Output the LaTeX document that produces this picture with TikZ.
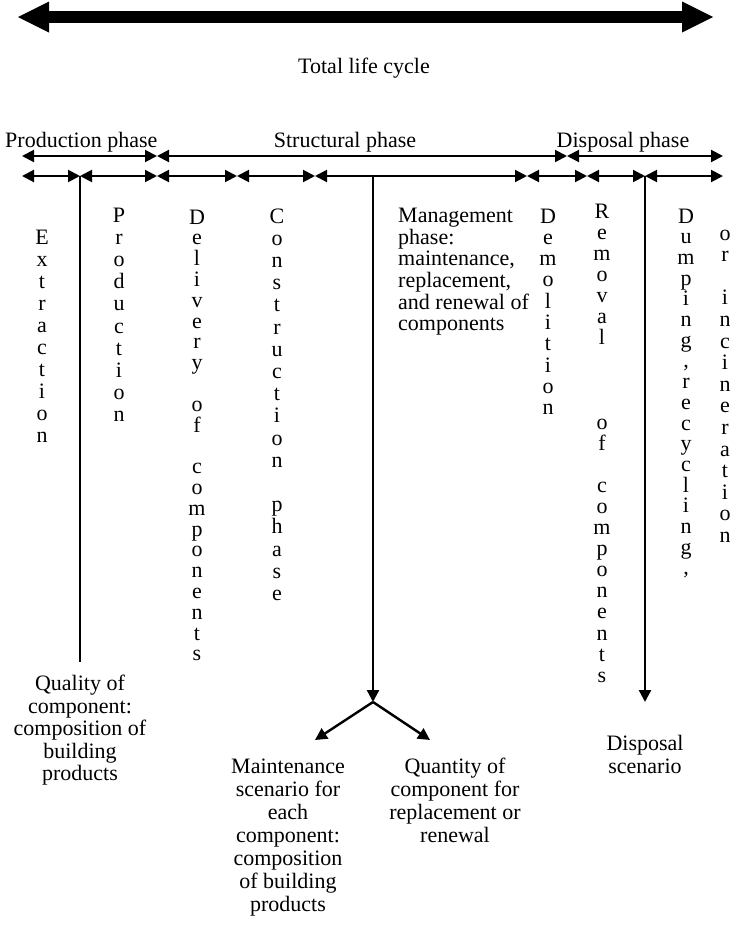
\documentclass[tikz,border=0pt]{standalone}
\usepackage{fontspec}
\setmainfont{Liberation Serif}
\usetikzlibrary{arrows.meta}

% one letter on each line: name, x, first baseline, line step, letters
\def\makevword#1#2#3#4#5{
  \foreach \ch [count=\i from 0] in {#5} {
    \node[letter] (#1-\i) at (#2, {#3+\i*#4}) {\ch};
  }
}

\begin{document}
\begin{tikzpicture}[x=1pt, y=-1pt,
  letter/.style={anchor=base, inner sep=0pt, font=\fontsize{22}{22}\selectfont},
  lbl/.style={inner sep=0pt, font=\fontsize{22}{23}\selectfont},
  seg/.style={line width=2pt, {Triangle[length=12pt,width=12pt]}-{Triangle[length=12pt,width=12pt]}},
  vline/.style={line width=2.4pt},
  tip/.style={-{Triangle[length=12pt,width=12pt]}}]
  \useasboundingbox (0,0) rectangle (729,929);

  \coordinate (lifeL) at (18,17);
  \coordinate (lifeR) at (713,17);
  \draw[line width=12.5pt, {Triangle[length=31pt,width=31pt,line width=0pt]}-{Triangle[length=31pt,width=31pt,line width=0pt]}] (lifeL) -- (lifeR);
  \node[lbl, anchor=base] (total) at (364,73) {Total life cycle};

  \node[lbl, anchor=base west] (prodph) at (5,147) {Production phase};
  \node[lbl, anchor=base] (structph) at (345,147) {Structural phase};
  \node[lbl, anchor=base] (dispph) at (623,147) {Disposal phase};

  \foreach \n/\x in {0/22, 1/157, 2/567, 3/723}
    \coordinate (p\n) at (\x,156);
  \foreach \n/\x in {0/22, 1/80, 2/157, 3/237, 4/315, 5/527, 6/587, 7/645, 8/723}
    \coordinate (s\n) at (\x,176);
  \foreach \a/\b in {0/1, 1/2, 2/3}
    \draw[seg] (p\a) -- (p\b);
  \foreach \a/\b in {0/1, 1/2, 2/3, 3/4, 4/5, 5/6, 6/7, 7/8}
    \draw[seg] (s\a) -- (s\b);

  \makevword{extr}{42}{244}{22}{E,x,t,r,a,c,t,i,o,n}
  \makevword{prod}{119}{222}{22.2}{P,r,o,d,u,c,t,i,o,n}
  \makevword{deliv}{197}{224}{20.8}{D,e,l,i,v,e,r,y,{},o,f,{},c,o,m,p,o,n,e,n,t,s}
  \makevword{constr}{277}{223}{22.2}{C,o,n,s,t,r,u,c,t,i,o,n,{},p,h,a,s,e}
  \makevword{demol}{548}{223}{21.3}{D,e,m,o,l,i,t,i,o,n}
  \makevword{remov}{602}{218}{21.1}{R,e,m,o,v,a,l,{},{},{},o,f,{},c,o,m,p,o,n,e,n,t,s}
  \makevword{dump}{686}{223}{20.7}{D,u,m,p,i,n,g,{,},r,e,c,y,c,l,i,n,g,{,}}
  \makevword{incin}{725}{240}{21.6}{o,r,{},i,n,c,i,n,e,r,a,t,i,o,n}

  \node[lbl, align=left, anchor=north west, font=\fontsize{22}{21.6}\selectfont] (mgmt) at (398,208)
    {Management\\phase:\\maintenance,\\replacement,\\and renewal of\\components};
  \node[lbl, align=center, anchor=north, font=\fontsize{22}{22.5}\selectfont] (quality) at (80,675)
    {Quality of\\component:\\composition of\\building\\products};
  \node[lbl, align=center, anchor=north] (maint) at (288,759)
    {Maintenance\\scenario for\\each\\component:\\composition\\of building\\products};
  \node[lbl, align=center, anchor=north] (quant) at (455,758)
    {Quantity of\\component for\\replacement or\\renewal};
  \node[lbl, align=center, anchor=north] (dispscen) at (645,735) {Disposal\\scenario};

  \coordinate (mtop) at (373,176);
  \coordinate (fork) at (373,702);
  \coordinate (forkL) at (315,740);
  \coordinate (forkR) at (430,740);
  \coordinate (dtip) at (645,702);
  \draw[vline, shorten >=13pt] (s1) -- (s1 |- quality.north);
  \draw[vline, tip] (mtop) -- (fork);
  \draw[vline, tip] (fork) -- (forkL);
  \draw[vline, tip] (fork) -- (forkR);
  \draw[vline, tip] (s7) -- (dtip);
\end{tikzpicture}
\end{document}
